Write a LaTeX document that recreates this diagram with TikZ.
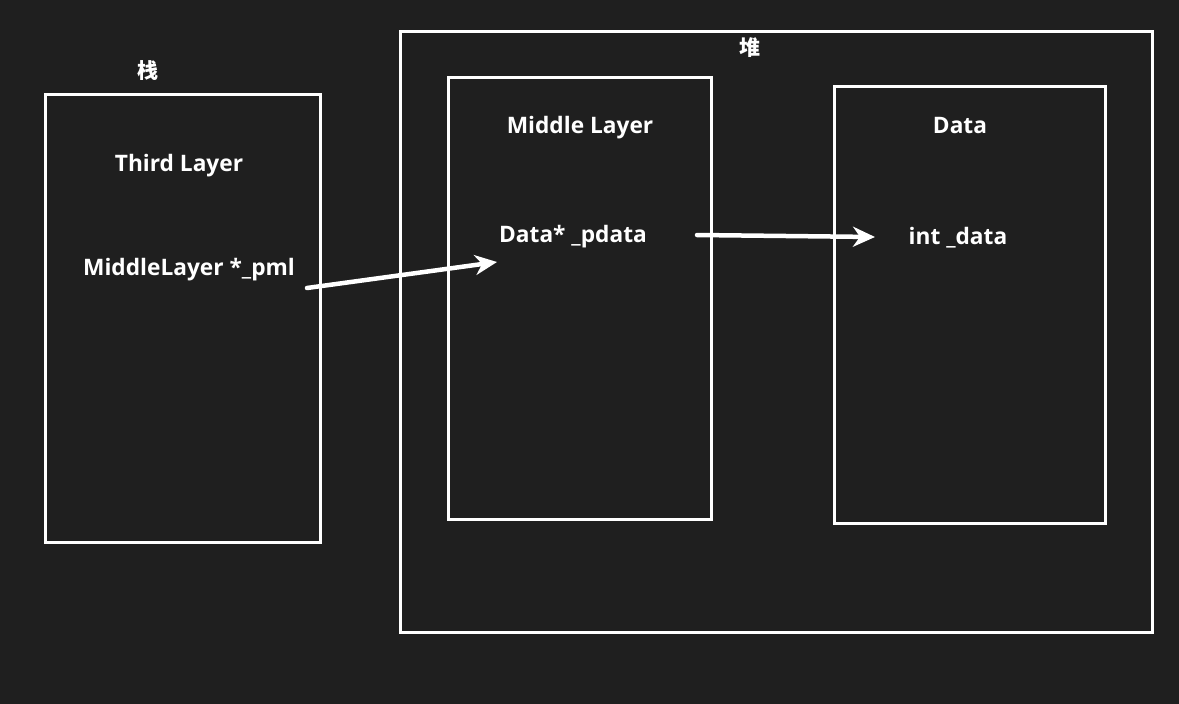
\documentclass[tikz,border=0pt]{standalone}
\usepackage{fontspec}
\setmainfont{Open Sans}
\newfontfamily\cjk{Noto Sans CJK SC}
\usetikzlibrary{arrows.meta}
\definecolor{bg}{HTML}{1F1F1F}
\begin{document}
\begin{tikzpicture}[x=1pt,y=-1pt,
  box/.style={draw=white,line width=3pt},
  lbl/.style={text=white,font=\bfseries\fontsize{22.7}{26}\selectfont,inner sep=0pt,anchor=center},
  cjklbl/.style={text=white,font=\cjk\bfseries\fontsize{21}{24}\selectfont,inner sep=0pt,anchor=center},
  ptr/.style={draw=white,line width=4.5pt,line cap=round,-{Stealth[length=22pt,width=20pt,inset=7pt]}}]
\fill[bg] (0,0) rectangle (1179,704);
\useasboundingbox (0,0) rectangle (1179,704);
\draw[box] (45,94) rectangle (320,542);
\draw[box] (400,31) rectangle (1152,632);
\draw[box] (448,77) rectangle (711,519);
\draw[box] (834,86) rectangle (1105,523);
\node[cjklbl] (stack) at (148,71) {栈};
\node[cjklbl] (heap) at (750,48) {堆};
\node[lbl] (third) at (179,166) {Third Layer};
\node[lbl] (pml) at (189,270) {MiddleLayer *\_pml};
\node[lbl] (middle) at (580,128) {Middle Layer};
\node[lbl] (pdata) at (573,237) {Data* \_pdata};
\node[lbl] (data) at (960,126) {Data};
\node[lbl] (intdata) at (958,238) {int \_data};
\coordinate (a1s) at (307,288);
\coordinate (a1e) at (497,262);
\coordinate (a2s) at (697,235);
\coordinate (a2e) at (875,237);
\draw[ptr] (a1s) -- (a1e);
\draw[ptr] (a2s) -- (a2e);
\end{tikzpicture}
\end{document}
